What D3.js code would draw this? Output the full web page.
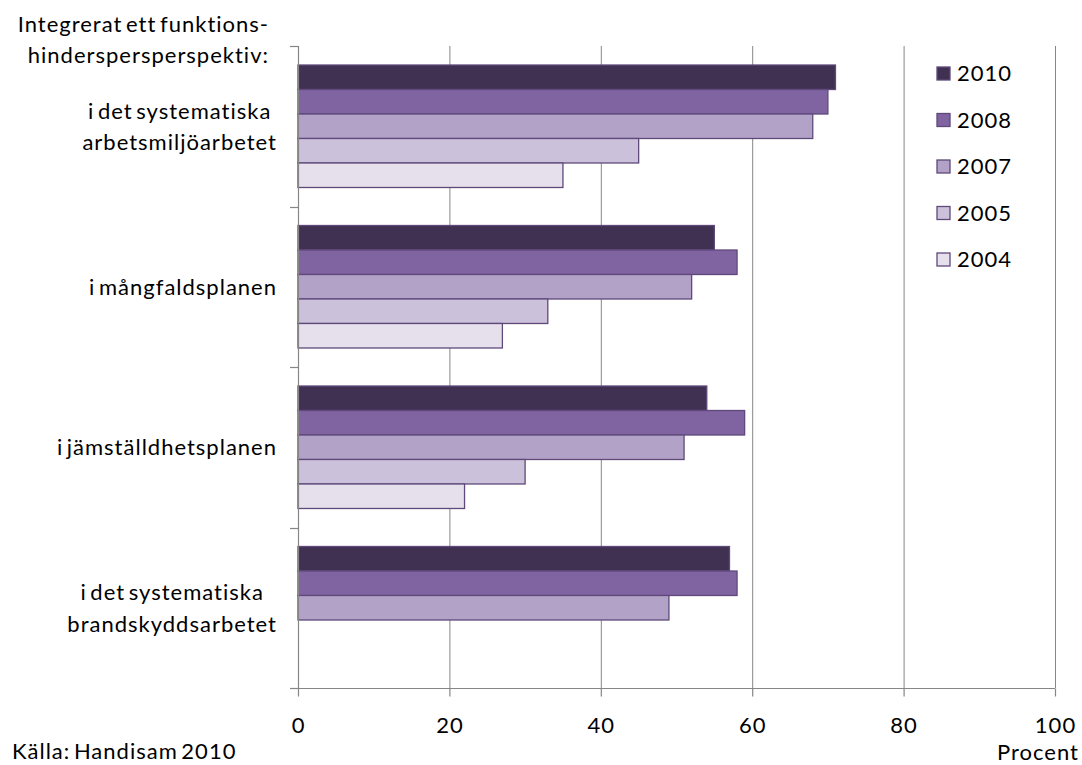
<!DOCTYPE html>
<html>
<head>
<meta charset="utf-8">
<script src="https://cdn.jsdelivr.net/npm/d3@7"></script>
<style>
  html, body { margin: 0; padding: 0; background: #fff; }
  svg text { font-family: Lato, "Open Sans", sans-serif; fill: #000; letter-spacing: 1px; word-spacing: -3px; }
</style>
</head>
<body>
<svg id="chart" width="1082" height="765"></svg>
<script>
// Categories (each label split into its lines)
const categories = [
  ["i det systematiska", "arbetsmiljöarbetet"],
  ["i mångfaldsplanen"],
  ["i jämställdhetsplanen"],
  ["i det systematiska", "brandskyddsarbetet"]
];
const headerLines = ["Integrerat ett funktions-", "hinderspersperspektiv:"];

// Survey years, top bar first
const years = ["2010", "2008", "2007", "2005", "2004"];
const yearColors = ["#403152", "#8064A2", "#B3A2C7", "#CCC1DA", "#E5E0EC"];

// Percent per category, one array per year (null = not asked that year)
const v2010 = [71, 55, 54, 57];
const v2008 = [70, 58, 59, 58];
const v2007 = [68, 52, 51, 49];
const v2005 = [45, 33, 30, null];
const v2004 = [35, 27, 22, null];
const seriesValues = [v2010, v2008, v2007, v2005, v2004];

const xTicks = [0, 20, 40, 60, 80, 100];
const axisTitle = "Procent";
const sourceNote = "Källa: Handisam 2010";

const svg = d3.select("#chart");
const fontSize = 22;
const axisColor = "#868686";

const plot = { left: 298, right: 1055, top: 46, bottom: 688 };

const x = d3.scaleLinear().domain([0, 100]).range([plot.left, plot.right]);
const catIdx = categories.map((d, i) => i);
const y0 = d3.scaleBand().domain(catIdx).range([plot.top, plot.bottom]).padding(0);
const y1 = d3.scaleBand().domain(years).range([0, y0.bandwidth()])
  .paddingInner(0).paddingOuter(0.776);

// vertical gridlines
svg.append("g")
  .selectAll("line")
  .data(xTicks.filter(t => t > 0))
  .join("line")
  .attr("x1", d => x(d) + 0.5).attr("x2", d => x(d) + 0.5)
  .attr("y1", plot.top).attr("y2", plot.bottom)
  .attr("stroke", axisColor).attr("stroke-width", 1);

// bars
const rows = [];
seriesValues.forEach((vals, si) => {
  vals.forEach((v, ci) => {
    if (v !== null) rows.push({ year: years[si], color: yearColors[si], cat: ci, value: v });
  });
});
svg.append("g")
  .selectAll("rect")
  .data(rows)
  .join("rect")
  .attr("x", x(0))
  .attr("y", d => y0(d.cat) + y1(d.year))
  .attr("width", d => x(d.value) - x(0))
  .attr("height", y1.bandwidth())
  .attr("fill", d => d.color)
  .attr("stroke", "#5F497A")
  .attr("stroke-width", 1.3);

// category axis: line plus boundary ticks
const boundaries = catIdx.map(i => y0(i)).concat([plot.bottom]);
const yAxis = svg.append("g");
yAxis.append("line")
  .attr("x1", plot.left + 0.5).attr("x2", plot.left + 0.5)
  .attr("y1", plot.top).attr("y2", plot.bottom)
  .attr("stroke", axisColor).attr("stroke-width", 1.2);
yAxis.selectAll("line.tick")
  .data(boundaries)
  .join("line")
  .attr("class", "tick")
  .attr("x1", plot.left - 8).attr("x2", plot.left + 0.5)
  .attr("y1", d => Math.round(d) + 0.5).attr("y2", d => Math.round(d) + 0.5)
  .attr("stroke", axisColor).attr("stroke-width", 1.2);

// value axis
const xAxis = svg.append("g")
  .attr("transform", `translate(0,${plot.bottom + 0.5})`)
  .call(d3.axisBottom(x).tickValues(xTicks).tickSize(8).tickPadding(21).tickSizeOuter(0));
xAxis.select(".domain").attr("stroke", axisColor).attr("stroke-width", 1.2)
  .attr("d", `M${plot.left - 8},0H${plot.right}`);
xAxis.selectAll(".tick line").attr("stroke", axisColor).attr("stroke-width", 1.2);
xAxis.selectAll(".tick text")
  .style("font-family", "Lato, sans-serif")
  .style("font-size", fontSize + "px")
  .attr("fill", "#000");

// category labels: lines centred within a right-aligned block
const labelRight = 277;
const lineGap = 31.5;
const labelG = svg.append("g").style("font-size", fontSize + "px");
categories.forEach((lines, i) => {
  const cy = y0(i) + y0.bandwidth() / 2;
  const g = labelG.append("g");
  const texts = g.selectAll("text")
    .data(lines)
    .join("text")
    .attr("text-anchor", "middle")
    .attr("y", (d, k) => cy + (k - (lines.length - 1) / 2) * lineGap + 8)
    .text(d => d);
  let maxW = 0;
  texts.each(function () { maxW = Math.max(maxW, this.getComputedTextLength()); });
  texts.attr("x", labelRight - maxW / 2);
});

// header above the category labels
svg.append("g").style("font-size", fontSize + "px")
  .selectAll("text")
  .data(headerLines)
  .join("text")
  .attr("text-anchor", "end")
  .attr("x", 269)
  .attr("y", (d, k) => 32 + k * 31)
  .text(d => d);

// legend
const legend = svg.append("g").attr("transform", "translate(937,67)");
const item = legend.selectAll("g")
  .data(years)
  .join("g")
  .attr("transform", (d, i) => `translate(0,${i * 46.5})`);
item.append("rect")
  .attr("width", 13).attr("height", 13)
  .attr("fill", (d, i) => yearColors[i])
  .attr("stroke", "#5F497A").attr("stroke-width", 1.3);
item.append("text")
  .attr("x", 20).attr("y", 14)
  .style("font-size", fontSize + "px")
  .text(d => d);

// axis title and source note
svg.append("text")
  .attr("x", 1079).attr("y", 760).attr("text-anchor", "end")
  .style("font-size", fontSize + "px")
  .text(axisTitle);
svg.append("text")
  .attr("x", 12).attr("y", 759)
  .style("font-size", fontSize + "px")
  .text(sourceNote);
</script>
</body>
</html>
